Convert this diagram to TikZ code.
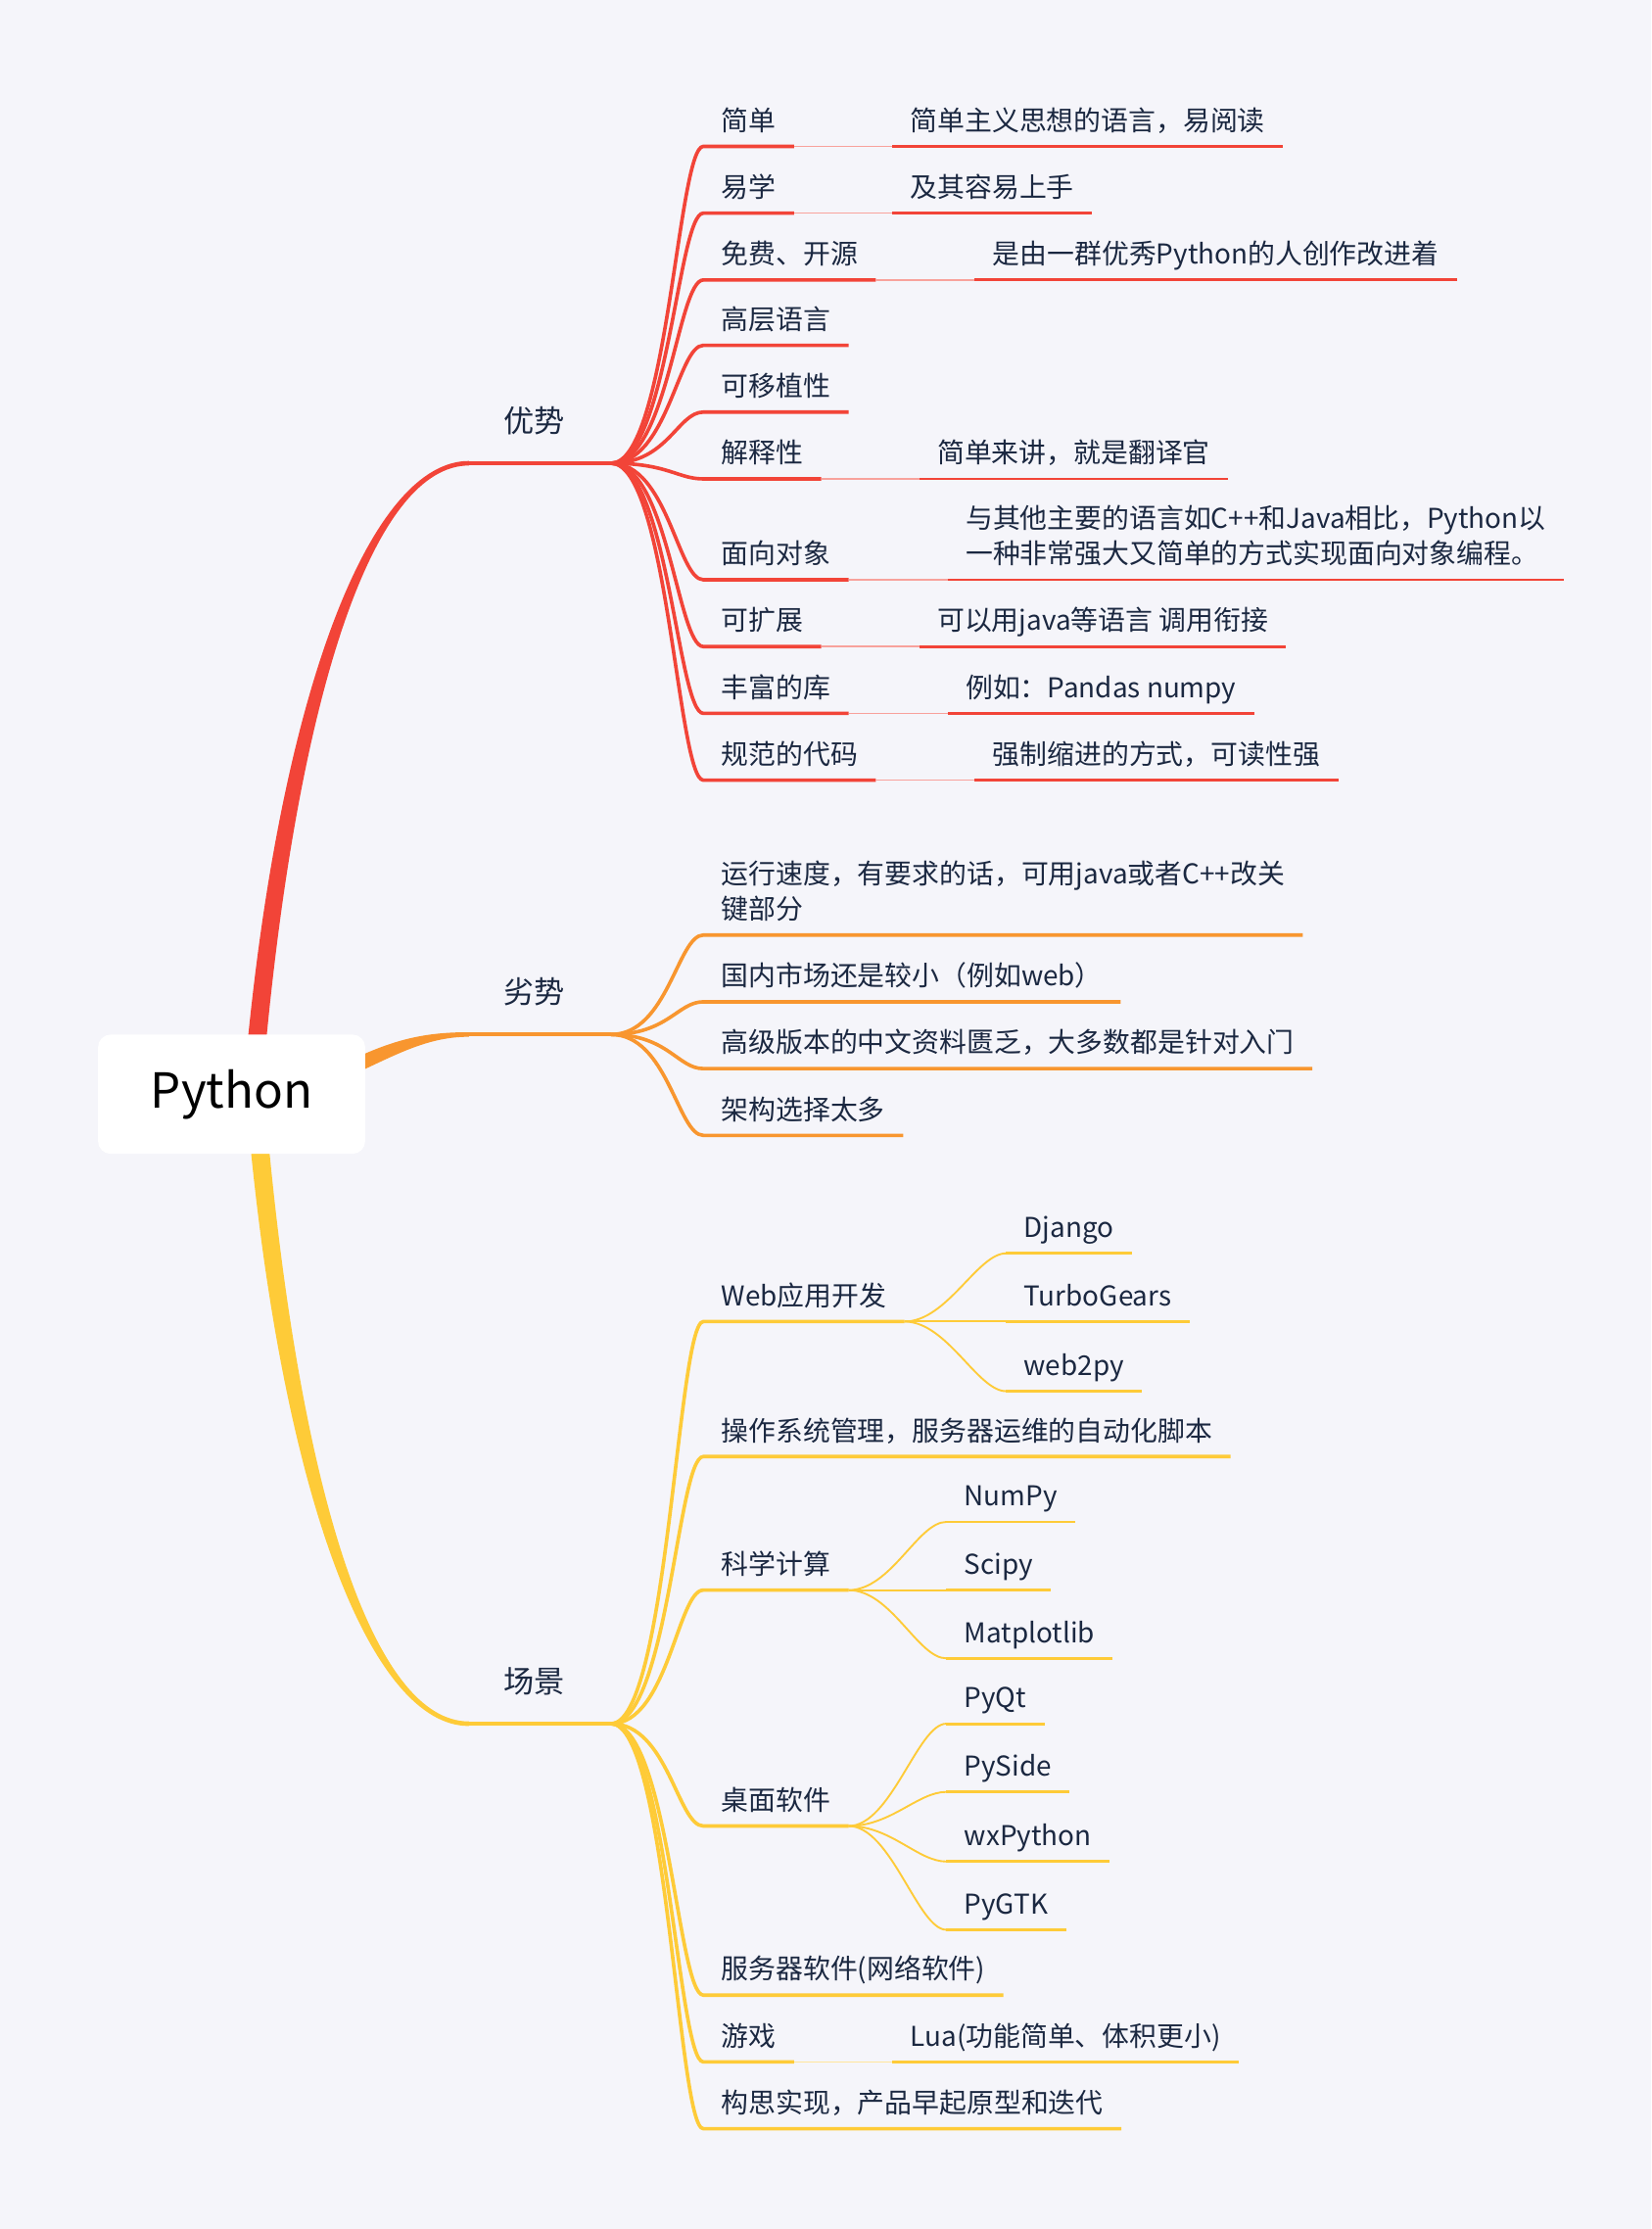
\documentclass[tikz,border=0pt]{standalone}
\usepackage{fontspec}
\setmainfont{Noto Sans CJK SC}
\usetikzlibrary{calc}

\definecolor{bgcol}{RGB}{245,245,250}
\definecolor{ink}{RGB}{27,40,65}
\definecolor{advred}{RGB}{242,68,56}
\definecolor{disorange}{RGB}{248,150,47}
\definecolor{useyellow}{RGB}{254,203,56}

\begin{document}
\begin{tikzpicture}[x=1pt, y=-1pt,
    rootbox/.style={rectangle, rounded corners=9pt, fill=white, minimum width=188pt,
                    minimum height=84pt, font=\fontsize{34}{40}\selectfont, text=black},
    mainlbl/.style={anchor=base, inner sep=0pt, font=\fontsize{21.5}{26}\selectfont, text=ink},
    leaf/.style={anchor=south west, inner xsep=12.5pt, inner ysep=0pt, text height=16pt,
                 text depth=11pt, font=\fontsize{19.2}{25}\selectfont, text=ink},
    twig/.style={to path={.. controls +(40,0) and +(-18,0) .. (\tikztotarget)}},
    sprig/.style={to path={.. controls +(30,0) and +(-20,0) .. (\tikztotarget)}},
    stem/.style={draw=#1, line width=2.8pt},
    twigline/.style={draw=#1, line width=2.5pt},
    fadeline/.style={draw=#1!50, line width=1pt},
    subline/.style={draw=#1, line width=2pt},
    sprigline/.style={draw=#1, line width=1.3pt}
]

    % Background
    \path[use as bounding box, fill=bgcol] (0,0) rectangle (1162,1568.6);

    % Main labels and hubs
    \node[mainlbl] (adv) at (376,304) {优势};
    \node[mainlbl] (dis) at (376,706) {劣势};
    \node[mainlbl] (use) at (376,1191) {场景};
    \coordinate (advl) at (330,326);
    \coordinate (advhub) at (430,326);
    \coordinate (disl) at (330,728);
    \coordinate (dishub) at (430,728);
    \coordinate (usel) at (330,1213);
    \coordinate (usehub) at (430,1213);

    % Root (trunks first, box on top)
    \coordinate (rootc) at (163,770);
    \fill[advred] ($(rootc)+(11,-34)$) .. controls +(25,-255) and +(-68,0) .. ($(advl)+(0,-1.6)$)
        -- ($(advl)+(0,1.6)$) .. controls +(-66,0) and +(24,-253) .. ($(rootc)+(24,-34)$) -- cycle;
    \fill[disorange] ($(rootc)+(86,-25)$) .. controls +(30,-14) and +(-30,0) .. ($(disl)+(0,-1.6)$)
        -- ($(disl)+(0,1.6)$) .. controls +(-28,0) and +(32,-15) .. ($(rootc)+(86,-14)$) -- cycle;
    \fill[useyellow] ($(rootc)+(13,34)$) .. controls +(25,255) and +(-68,0) .. ($(usel)+(0,1.6)$)
        -- ($(usel)+(0,-1.6)$) .. controls +(-66,0) and +(24,253) .. ($(rootc)+(26,34)$) -- cycle;
    \node[rootbox] (root) at (rootc) {Python};

    \draw[stem=advred] (advl) -- (advhub);
    \draw[stem=disorange] (disl) -- (dishub);
    \draw[stem=useyellow] (usel) -- (usehub);

    % Advantages
    \node[leaf] (a1) at (495,103) {简单};
    \node[leaf] (a2) at (495,150) {易学};
    \node[leaf] (a3) at (495,197) {免费、开源};
    \node[leaf] (a4) at (495,243) {高层语言};
    \node[leaf] (a5) at (495,290) {可移植性};
    \node[leaf] (a6) at (495,337) {解释性};
    \node[leaf] (a7) at (495,408) {面向对象};
    \node[leaf] (a8) at (495,455) {可扩展};
    \node[leaf] (a9) at (495,502) {丰富的库};
    \node[leaf] (a10) at (495,549) {规范的代码};

    \node[leaf] (a1x) at (628,103) {简单主义思想的语言，易阅读};
    \node[leaf] (a2x) at (628,150) {及其容易上手};
    \node[leaf] (a3x) at (686,197) {是由一群优秀Python的人创作改进着};
    \node[leaf] (a6x) at (647,337) {简单来讲，就是翻译官};
    \node[leaf, align=left] (a7x) at (667,408) {与其他主要的语言如C++和Java相比，Python以\\一种非常强大又简单的方式实现面向对象编程。};
    \node[leaf] (a8x) at (647,455) {可以用java等语言 调用衔接};
    \node[leaf] (a9x) at (667,502) {例如：Pandas numpy};
    \node[leaf] (a10x) at (686,549) {强制缩进的方式，可读性强};

    \foreach \n in {a1,a2,a3,a4,a5,a6,a7,a8,a9,a10}
        \draw[twigline=advred] (advhub) to[twig] (\n.south west) -- (\n.south east);
    \foreach \n in {a1,a2,a3,a6,a7,a8,a9,a10} {
        \draw[fadeline=advred] (\n.south east) -- (\n x.south west);
        \draw[subline=advred] (\n x.south west) -- (\n x.south east);
    }

    % Disadvantages
    \node[leaf, align=left] (d1) at (495,658) {运行速度，有要求的话，可用java或者C++改关\\键部分};
    \node[leaf] (d2) at (495,705) {国内市场还是较小（例如web）};
    \node[leaf] (d3) at (495,752) {高级版本的中文资料匮乏，大多数都是针对入门};
    \node[leaf] (d4) at (495,799) {架构选择太多};

    \foreach \n in {d1,d2,d3,d4}
        \draw[twigline=disorange] (dishub) to[twig] (\n.south west) -- (\n.south east);

    % Use cases
    \node[leaf] (u1) at (495,930) {Web应用开发};
    \node[leaf] (u2) at (495,1025) {操作系统管理，服务器运维的自动化脚本};
    \node[leaf] (u3) at (495,1119) {科学计算};
    \node[leaf] (u4) at (495,1285) {桌面软件};
    \node[leaf] (u5) at (495,1404) {服务器软件(网络软件)};
    \node[leaf] (u6) at (495,1451) {游戏};
    \node[leaf] (u7) at (495,1498) {构思实现，产品早起原型和迭代};

    \node[leaf] (u1a) at (708,882) {Django};
    \node[leaf] (u1b) at (708,930) {TurboGears};
    \node[leaf] (u1c) at (708,979) {web2py};
    \node[leaf] (u3a) at (666,1071) {NumPy};
    \node[leaf] (u3b) at (666,1119) {Scipy};
    \node[leaf] (u3c) at (666,1167) {Matplotlib};
    \node[leaf] (u4a) at (666,1213) {PyQt};
    \node[leaf] (u4b) at (666,1261) {PySide};
    \node[leaf] (u4c) at (666,1310) {wxPython};
    \node[leaf] (u4d) at (666,1358) {PyGTK};
    \node[leaf] (u6x) at (628,1451) {Lua(功能简单、体积更小)};

    \foreach \n in {u1,u2,u3,u4,u5,u6,u7}
        \draw[twigline=useyellow] (usehub) to[twig] (\n.south west) -- (\n.south east);
    \foreach \p/\n in {u1/u1a,u1/u1b,u1/u1c,u3/u3a,u3/u3b,u3/u3c,u4/u4a,u4/u4b,u4/u4c,u4/u4d} {
        \draw[sprigline=useyellow] (\p.south east) to[sprig] (\n.south west);
        \draw[subline=useyellow] (\n.south west) -- (\n.south east);
    }
    \draw[fadeline=useyellow] (u6.south east) -- (u6x.south west);
    \draw[subline=useyellow] (u6x.south west) -- (u6x.south east);

\end{tikzpicture}
\end{document}
